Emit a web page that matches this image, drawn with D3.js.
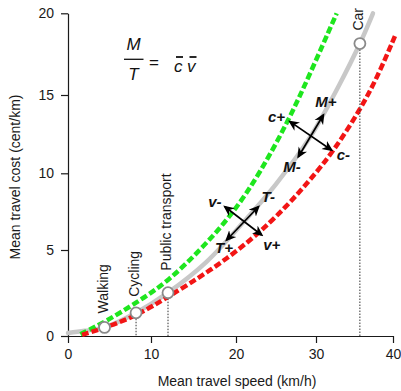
<!DOCTYPE html>
<html>
<head>
  <meta charset="utf-8">
  <title>Mean travel cost vs mean travel speed</title>
  <script src="https://d3js.org/d3.v7.min.js"></script>
  <style>
    body { margin: 0; background: #fff; }
    svg { display: block; font-family: "Liberation Sans", Arial, sans-serif; }
  </style>
</head>
<body>
<svg id="chart" width="401" height="391"></svg>
<script>
  // DATA
  var xTicks = [0, 10, 20, 30, 40];
  var yTicks = [0, 5, 10, 15, 20];

  // modes on the grey curve
  var modeNames = ["Walking", "Cycling", "Public transport", "Car"];
  var modeSpeed = [4.4, 8.2, 12.0, 35.7];
  var modeCost  = [0.5, 1.35, 2.52, 18.15];
  var modeDrop  = [false, true, true, true];

  // grey curve: M/T constant
  var greySpeed = [0, 2, 4.4, 8.2, 12.0, 16.5, 20.8, 25.0, 29.3, 33.0, 35.7, 37.4];
  var greyCost  = [0.17, 0.3, 0.5, 1.35, 2.52, 4.3, 6.74, 9.3, 12.34, 15.6, 18.15, 20.0];

  // green dashed (c+ / v-)
  var greenSpeed = [1.5, 4.66, 8.19, 12.0, 16.15, 19.68, 23.0, 26.54, 29.25, 32.69];
  var greenCost  = [0.1, 0.87, 1.92, 3.16, 5.2, 7.41, 10.02, 13.34, 16.29, 20.0];

  // red dashed (c- / v+)
  var redSpeed = [1.69, 5.06, 8.43, 12.0, 16.94, 22.13, 26.38, 29.25, 32.21, 35.71, 37.92, 40.26];
  var redCost  = [0.06, 0.58, 1.22, 2.27, 3.78, 5.72, 7.87, 9.56, 11.36, 14.04, 16.04, 18.61];

  // double-headed arrows [x1, y1, x2, y2] in data units
  var arrows = [
    [18.7, 7.82, 23.2, 5.98],   // v- / v+
    [18.9, 5.65, 22.8, 7.82],   // T+ / T-
    [26.75, 13.3, 32.0, 11.49], // c+ / c-
    [27.8, 11.06, 30.95, 13.72] // M- / M+
  ];
  var arrowText  = ["c+", "M+", "M-", "c-", "v-", "T-", "T+", "v+"];
  var arrowTextX = [24.0, 29.9, 25.9, 32.7, 16.74, 23.2, 17.53, 23.4];
  var arrowTextY = [13.3, 14.25, 10.1, 10.85, 7.82, 8.15, 4.81, 5.0];

  // LAYOUT
  var svg = d3.select("#chart");
  var labelLift = [14, 16, 22, 13];

  // scales (axis ticks sit unevenly in the picture)
  var x = d3.scaleLinear().domain(xTicks).range([68, 151, 236, 316, 393]);
  var y = d3.scaleLinear().domain(yTicks).range([336, 250, 173.3, 95, 13.3]);

  function pts(xs, ys) {
    return xs.map(function(d, i) { return [d, ys[i]]; });
  }
  var line = d3.line()
    .x(function(d) { return x(d[0]); })
    .y(function(d) { return y(d[1]); })
    .curve(d3.curveCatmullRom.alpha(0.5));
  var smooth = d3.line()
    .x(function(d) { return x(d[0]); })
    .y(function(d) { return y(d[1]); })
    .curve(d3.curveBasis);

  // axes
  svg.append("g")
    .attr("transform", "translate(0," + y(0) + ")")
    .call(d3.axisBottom(x).tickValues(xTicks).tickSize(7).tickSizeOuter(0).tickPadding(6));
  svg.append("g")
    .attr("transform", "translate(" + x(0) + ",0)")
    .call(d3.axisLeft(y).tickValues(yTicks).tickSize(7).tickSizeOuter(0).tickPadding(7));
  svg.selectAll(".tick text").style("font-size", "14px").attr("fill", "#1a1a1a");
  svg.selectAll(".domain, .tick line").attr("stroke", "#1a1a1a").attr("stroke-width", 1.2);

  svg.append("text")
    .attr("x", 237).attr("y", 386)
    .attr("text-anchor", "middle")
    .style("font-size", "14px").attr("fill", "#1a1a1a")
    .text("Mean travel speed (km/h)");
  svg.append("text")
    .attr("transform", "translate(20,177) rotate(-90)")
    .attr("text-anchor", "middle")
    .style("font-size", "14px").attr("fill", "#1a1a1a")
    .text("Mean travel cost (cent/km)");

  // curves
  svg.append("path")
    .attr("d", line(pts(greySpeed, greyCost)))
    .attr("fill", "none").attr("stroke", "#c8c8c8").attr("stroke-width", 4.5)
    .attr("stroke-linecap", "round");
  svg.append("path")
    .attr("d", smooth(pts(greenSpeed, greenCost)))
    .attr("fill", "none").attr("stroke", "#1ee61e").attr("stroke-width", 4.5)
    .attr("stroke-dasharray", "7,3");
  svg.append("path")
    .attr("d", smooth(pts(redSpeed, redCost)))
    .attr("fill", "none").attr("stroke", "#f21515").attr("stroke-width", 4.5)
    .attr("stroke-dasharray", "7,3");

  // drop lines + mode points
  modeNames.forEach(function(name, i) {
    var cx = x(modeSpeed[i]), cy = y(modeCost[i]);
    if (modeDrop[i]) {
      svg.append("line")
        .attr("x1", cx).attr("x2", cx).attr("y1", cy).attr("y2", y(0))
        .attr("stroke", "#333").attr("stroke-width", 1).attr("stroke-dasharray", "1.5,1.5");
    }
    svg.append("circle")
      .attr("cx", cx).attr("cy", cy).attr("r", 5.5)
      .attr("fill", "#fff").attr("stroke", "#8a8a8a").attr("stroke-width", 1.8);
    svg.append("text")
      .attr("transform", "translate(" + (cx + 3) + "," + (cy - labelLift[i]) + ") rotate(-90)")
      .style("font-size", "14px").attr("fill", "#1a1a1a")
      .text(name);
  });

  // arrows
  var defs = svg.append("defs");
  defs.append("marker")
    .attr("id", "head").attr("viewBox", "0 0 10 10")
    .attr("refX", 8).attr("refY", 5)
    .attr("markerWidth", 11).attr("markerHeight", 11)
    .attr("markerUnits", "userSpaceOnUse")
    .attr("orient", "auto-start-reverse")
    .append("path").attr("d", "M0,0.5 L10,5 L0,9.5 L3,5 Z").attr("fill", "#000");

  svg.selectAll(".arrow").data(arrows).enter().append("line")
    .attr("class", "arrow")
    .attr("x1", function(d) { return x(d[0]); })
    .attr("y1", function(d) { return y(d[1]); })
    .attr("x2", function(d) { return x(d[2]); })
    .attr("y2", function(d) { return y(d[3]); })
    .attr("stroke", "#000").attr("stroke-width", 1.7)
    .attr("marker-start", "url(#head)").attr("marker-end", "url(#head)");

  svg.selectAll(".alabel").data(arrowText).enter().append("text")
    .attr("class", "alabel")
    .attr("x", function(d, i) { return x(arrowTextX[i]); })
    .attr("y", function(d, i) { return y(arrowTextY[i]); })
    .style("font-size", "15px").style("font-weight", "bold").style("font-style", "italic")
    .attr("fill", "#111")
    .text(function(d) { return d; });

  // formula  M/T = c̄ v̄
  var f = svg.append("g").style("font-style", "italic").style("font-size", "17px").attr("fill", "#111");
  f.append("text").attr("x", 133.5).attr("y", 50).attr("text-anchor", "middle").text("M");
  f.append("line").attr("x1", 124).attr("x2", 143.5).attr("y1", 59.3).attr("y2", 59.3)
    .attr("stroke", "#111").attr("stroke-width", 1.3);
  f.append("text").attr("x", 133.5).attr("y", 80).attr("text-anchor", "middle").text("T");
  f.append("text").attr("x", 149).attr("y", 68).style("font-style", "normal").text("=");
  f.append("text").attr("x", 174).attr("y", 71.5).text("c");
  f.append("text").attr("x", 187).attr("y", 71.5).text("v");
  f.append("line").attr("x1", 176).attr("x2", 183).attr("y1", 57).attr("y2", 57)
    .attr("stroke", "#111").attr("stroke-width", 1.8);
  f.append("line").attr("x1", 189.5).attr("x2", 196.5).attr("y1", 57).attr("y2", 57)
    .attr("stroke", "#111").attr("stroke-width", 1.8);
</script>
</body>
</html>
